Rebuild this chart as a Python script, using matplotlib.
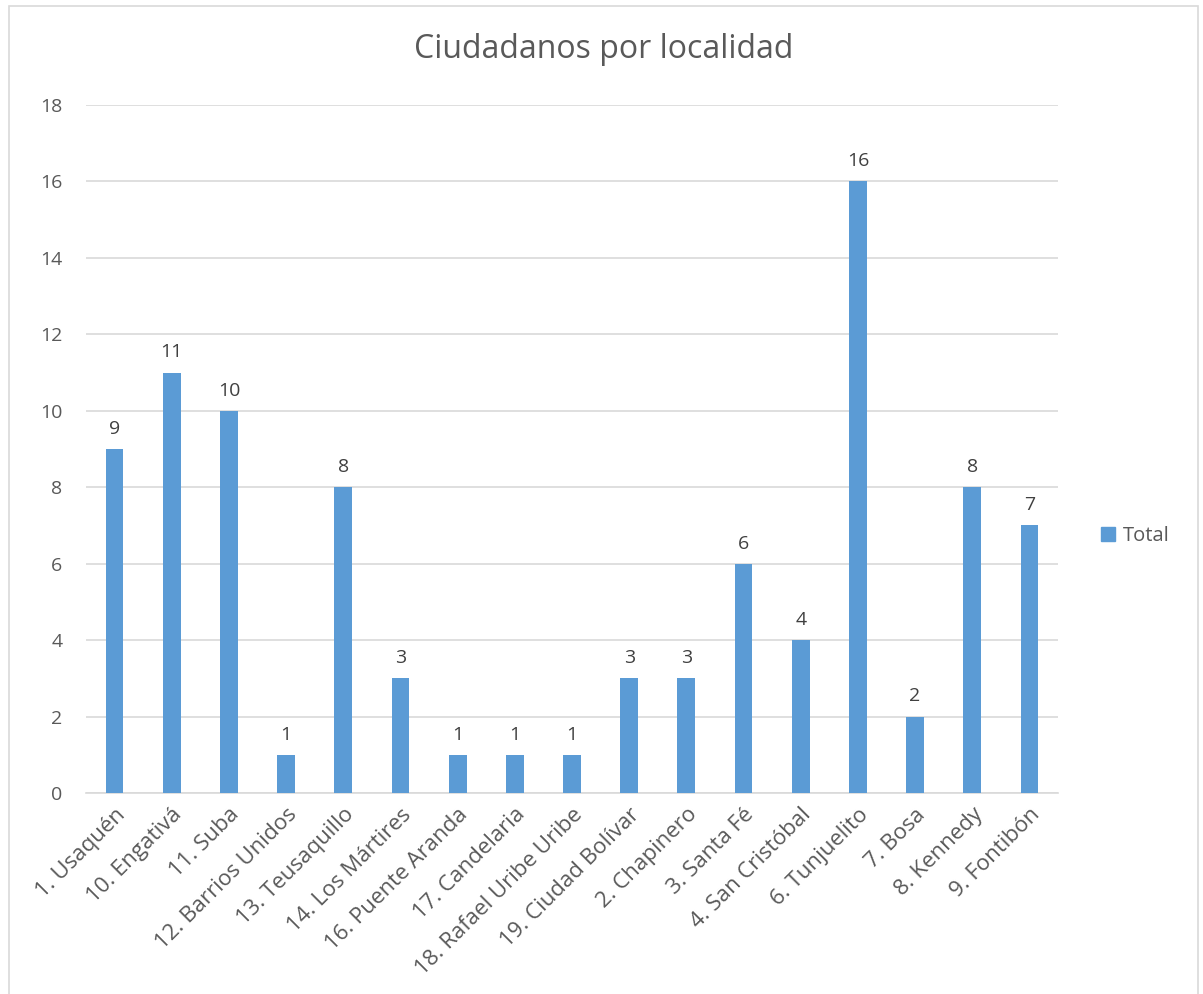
import matplotlib.pyplot as plt
from matplotlib.patches import Rectangle, Patch

# data
localidades = ["1. Usaquén", "10. Engativá", "11. Suba", "12. Barrios Unidos",
               "13. Teusaquillo", "14. Los Mártires", "16. Puente Aranda",
               "17. Candelaria", "18. Rafael Uribe Uribe", "19. Ciudad Bolívar",
               "2. Chapinero", "3. Santa Fé", "4. San Cristóbal", "6. Tunjuelito",
               "7. Bosa", "8. Kennedy", "9. Fontibón"]
totales = [9, 11, 10, 1, 8, 3, 1, 1, 1, 3, 3, 6, 4, 16, 2, 8, 7]
y_ticks = [0, 2, 4, 6, 8, 10, 12, 14, 16, 18]

bar_color = "#5B9BD5"
text_color = "#595959"
grid_color = "#D9D9D9"

plt.rcParams['font.family'] = ['Open Sans', 'DejaVu Sans']

fig = plt.figure(figsize=(12.03, 9.94), dpi=100)
W, H = 1203, 994

# chart outer border (like the Excel chart area)
fig.patches.append(Rectangle((9 / W, -0.01), (1198 - 9) / W, 1.01 - 6 / H,
                             transform=fig.transFigure, fill=False,
                             edgecolor=grid_color, linewidth=1.2))

ax = fig.add_axes([86 / W, 1 - 793 / H, (1058 - 86) / W, (793 - 105) / H])

x = range(len(localidades))
bars = ax.bar(x, totales, width=0.31, color=bar_color, zorder=3)

for xi, v in zip(x, totales):
    ax.annotate(str(v), (xi, v), xytext=(0, 8), textcoords="offset points",
                ha="center", va="bottom", fontsize=14, color="#404040")

ax.set_xlim(-0.5, len(localidades) - 0.5)
ax.set_ylim(0, 18)
ax.set_yticks(y_ticks)
ax.set_yticklabels([str(t) for t in y_ticks], fontsize=14, color=text_color)
ax.set_xticks(list(x))
ax.set_xticklabels(localidades, rotation=45, ha="right", rotation_mode="anchor",
                   fontsize=16, color=text_color)
ax.tick_params(axis="both", length=0)
ax.tick_params(axis="y", pad=17)
ax.tick_params(axis="x", pad=8)

ax.grid(axis="y", color=grid_color, linewidth=1.2, zorder=0)
for side in ["top", "right", "left"]:
    ax.spines[side].set_visible(False)
ax.spines["bottom"].set_color(grid_color)
ax.spines["bottom"].set_linewidth(1.2)

fig.text(604 / W, 1 - 50 / H, "Ciudadanos por localidad",
         ha="center", va="center", fontsize=23, color=text_color)

fig.legend(handles=[Patch(color=bar_color, label="Total")],
           loc="center left", bbox_to_anchor=(1083 / W, 1 - 536 / H),
           frameon=False, fontsize=14.5, handlelength=0.7, handleheight=0.7,
           handletextpad=0.4, labelcolor=text_color)

fig.savefig("out.png", dpi=100)
